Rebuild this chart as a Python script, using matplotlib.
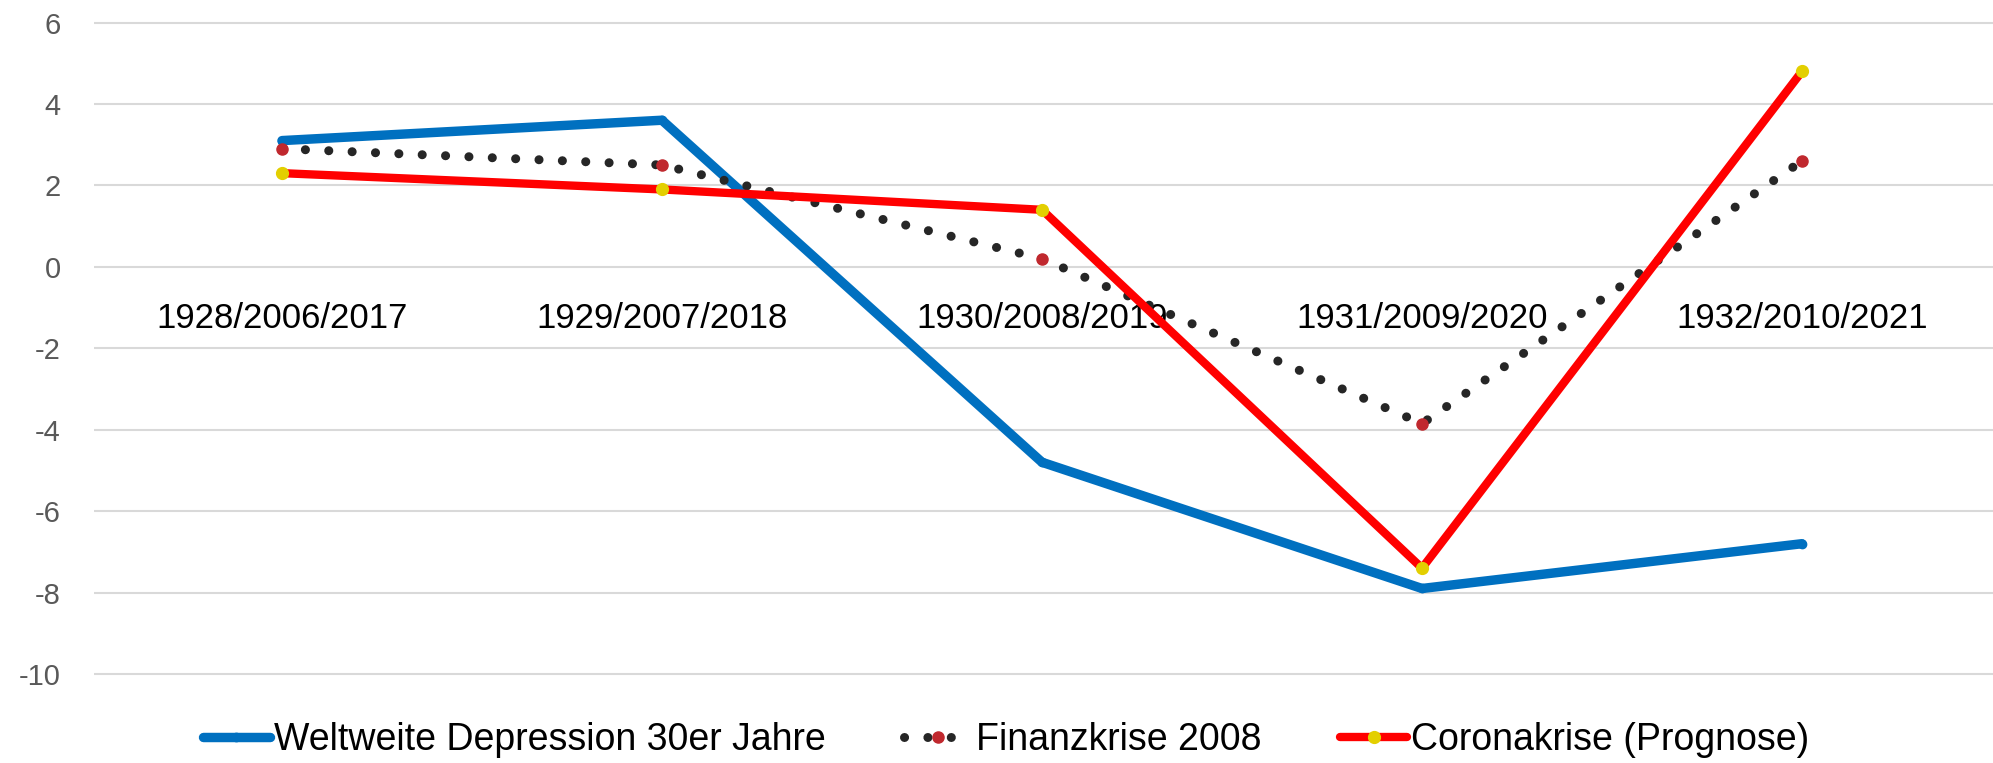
import matplotlib
matplotlib.use("Agg")
import matplotlib.pyplot as plt

plt.rcParams['font.family'] = ['Liberation Sans', 'DejaVu Sans']

categories = ["1928/2006/2017", "1929/2007/2018", "1930/2008/2019", "1931/2009/2020", "1932/2010/2021"]
depression = [3.1, 3.6, -4.8, -7.9, -6.8]
finanzkrise = [2.9, 2.5, 0.2, -3.85, 2.6]
corona = [2.3, 1.9, 1.4, -7.4, 4.8]
series_names = ["Weltweite Depression 30er Jahre", "Finanzkrise 2008", "Coronakrise (Prognose)"]
yticks = [-10, -8, -6, -4, -2, 0, 2, 4, 6]

W, H = 1993, 763
fig = plt.figure(figsize=(W / 100, H / 100), dpi=100)

# axes geometry (pixels)
left_px = 94
y_top_px = 22.5 - 0.1 * 40.7
y_bot_px = 674 + 0.1 * 40.7
ax = fig.add_axes([left_px / W, 1 - y_bot_px / H, 1 - left_px / W, (y_bot_px - y_top_px) / H])

x = list(range(len(categories)))

ax.plot(x, depression, color="#0070C0", lw=6.8, solid_capstyle="round", solid_joinstyle="round",
        marker="o", markersize=6, markerfacecolor="#0070C0", markeredgecolor="#0070C0",
        label=series_names[0], zorder=3)
ax.plot(x, finanzkrise, color="#262626", lw=6.5, linestyle=(0, (0.01, 2.58)), dash_capstyle="round",
        marker="o", markersize=8, markerfacecolor="#C0282E", markeredgecolor="#C0282E",
        label=series_names[1], zorder=4)
ax.plot(x, corona, color="#FF0000", lw=6.0, solid_capstyle="round", solid_joinstyle="round",
        marker="o", markersize=8.5, markerfacecolor="#E3CF00", markeredgecolor="#E3CF00",
        label=series_names[2], zorder=5)

# x-range so that categories sit at 282, 662, ... px
span = 380.0
xmin = 0 - (282 - left_px) / span
xmax = 4 + (W - 1802) / span
ax.set_xlim(xmin, xmax)
ax.set_ylim(-10.1, 6.1)

ax.set_yticks(yticks)
ax.set_yticklabels([str(v) for v in yticks])
ax.tick_params(axis="y", length=0, pad=24, labelsize=21, labelcolor="#595959")
ax.set_xticks([])
ax.yaxis.grid(True, color="#D9D9D9", lw=1.5)
ax.set_axisbelow(True)
for s in ax.spines.values():
    s.set_visible(False)

for i, lab in enumerate(categories):
    ax.text(i, -1.5, lab, ha="center", va="baseline", fontsize=25, color="#000000", zorder=1)

fig.legend(loc="center", bbox_to_anchor=(1006 / W, 1 - 740 / H), ncol=3, frameon=False,
           fontsize=27, handlelength=1.8, handletextpad=0.1, columnspacing=2.1,
           borderpad=0, borderaxespad=0)

fig.savefig("out.png", dpi=100)
